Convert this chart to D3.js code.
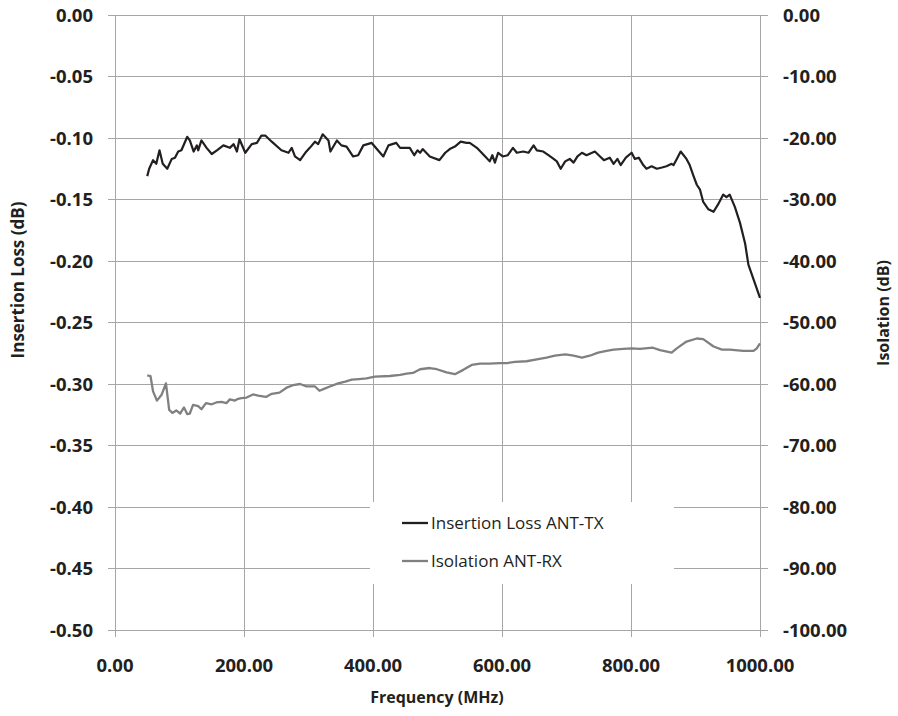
<!DOCTYPE html>
<html>
<head>
<meta charset="utf-8">
<script src="https://cdn.jsdelivr.net/npm/d3@7"></script>
<style>
  body { margin: 0; background: #fff; }
  svg { font-family: "Open Sans", sans-serif; }
</style>
</head>
<body>
<script>
// Insertion Loss ANT-TX (left axis, dB)
var ilFreq = [50,53,59,64,69,74,81,88,93,98,103,112,116,122,127,129,134,142,150,158,168,178,184,189,193,202,212,220,227,233,243,258,269,274,279,287,295,302,310,315,322,331,334,344,351,359,369,377,385,398,406,416,424,436,442,457,464,469,473,477,488,503,512,519,527,536,545,550,561,574,581,585,589,594,601,609,617,623,633,641,649,654,664,672,680,685,691,698,705,711,717,724,731,744,752,758,767,773,779,784,792,801,806,812,819,824,832,840,848,855,863,866,871,877,886,891,897,902,907,912,920,928,935,943,948,953,961,969,977,982,990,1000];
var ilLoss = [-0.131,-0.125,-0.118,-0.121,-0.110,-0.121,-0.125,-0.117,-0.116,-0.111,-0.110,-0.099,-0.102,-0.111,-0.106,-0.110,-0.102,-0.108,-0.113,-0.110,-0.106,-0.108,-0.105,-0.111,-0.101,-0.112,-0.105,-0.104,-0.098,-0.098,-0.103,-0.110,-0.112,-0.108,-0.115,-0.118,-0.112,-0.108,-0.103,-0.105,-0.097,-0.102,-0.111,-0.102,-0.106,-0.107,-0.115,-0.114,-0.106,-0.104,-0.109,-0.115,-0.106,-0.104,-0.108,-0.108,-0.114,-0.110,-0.112,-0.109,-0.115,-0.118,-0.112,-0.109,-0.107,-0.103,-0.104,-0.104,-0.108,-0.115,-0.119,-0.114,-0.120,-0.112,-0.115,-0.114,-0.108,-0.112,-0.111,-0.112,-0.106,-0.110,-0.111,-0.114,-0.117,-0.119,-0.125,-0.119,-0.117,-0.120,-0.115,-0.112,-0.114,-0.111,-0.115,-0.118,-0.116,-0.121,-0.117,-0.122,-0.116,-0.112,-0.117,-0.116,-0.122,-0.125,-0.123,-0.125,-0.124,-0.123,-0.121,-0.122,-0.117,-0.111,-0.117,-0.122,-0.131,-0.138,-0.142,-0.152,-0.158,-0.160,-0.154,-0.146,-0.148,-0.146,-0.156,-0.169,-0.186,-0.203,-0.215,-0.230];

// Isolation ANT-RX (right axis, dB)
var isoFreq = [50,55,59,65,72,79,84,89,95,101,107,112,116,121,129,134,141,150,157,165,173,178,186,191,196,204,214,222,234,243,255,266,276,287,297,310,317,324,333,346,357,367,378,390,403,426,442,452,462,473,488,499,514,527,540,553,566,580,597,608,620,638,654,669,682,698,711,724,736,749,762,773,788,801,814,834,845,863,871,886,902,912,928,941,953,974,990,995,1000];
var isoValues = [-58.6,-58.7,-61.2,-62.7,-61.8,-59.9,-64.2,-64.7,-64.3,-64.8,-63.8,-64.9,-64.8,-63.4,-63.6,-64.1,-63.1,-63.3,-63.0,-62.9,-63.1,-62.5,-62.7,-62.4,-62.3,-62.2,-61.7,-61.9,-62.1,-61.6,-61.4,-60.6,-60.2,-60.0,-60.4,-60.4,-61.1,-60.8,-60.4,-59.9,-59.6,-59.3,-59.2,-59.1,-58.8,-58.7,-58.5,-58.3,-58.2,-57.6,-57.4,-57.6,-58.1,-58.4,-57.7,-56.9,-56.7,-56.7,-56.6,-56.6,-56.4,-56.3,-56.0,-55.7,-55.4,-55.2,-55.4,-55.7,-55.4,-54.9,-54.6,-54.4,-54.3,-54.2,-54.3,-54.1,-54.5,-54.9,-54.2,-53.1,-52.6,-52.7,-53.9,-54.4,-54.4,-54.6,-54.6,-54.2,-53.4];

var xTicks = [0, 200, 400, 600, 800, 1000];
var leftTicks = [0, -0.05, -0.10, -0.15, -0.20, -0.25, -0.30, -0.35, -0.40, -0.45, -0.50];
var rightTicks = [0, -10, -20, -30, -40, -50, -60, -70, -80, -90, -100];

var margin = {top: 15, right: 138, bottom: 86, left: 115};
var width = 898 - margin.left - margin.right;
var height = 716 - margin.top - margin.bottom;

var svg = d3.select("body")
  .append("svg")
    .attr("width", 898)
    .attr("height", 716);

var g = svg.append("g")
    .attr("transform", "translate(" + margin.left + "," + margin.top + ")");

var x = d3.scaleLinear().domain([0, 1000]).range([0, width]);
var yL = d3.scaleLinear().domain([-0.5, 0]).range([height, 0]);
var yR = d3.scaleLinear().domain([-100, 0]).range([height, 0]);

var gridColor = "#a6a6a6";

// horizontal gridlines with outside ticks on both sides
g.selectAll(".hgrid")
  .data(leftTicks)
  .enter().append("line")
    .attr("x1", -7)
    .attr("x2", width + 8)
    .attr("y1", d => yL(d))
    .attr("y2", d => yL(d))
    .attr("stroke", gridColor)
    .attr("stroke-width", 1)
    .attr("shape-rendering", "crispEdges");

// vertical gridlines with ticks below
g.selectAll(".vgrid")
  .data(xTicks)
  .enter().append("line")
    .attr("x1", d => x(d))
    .attr("x2", d => x(d))
    .attr("y1", 0)
    .attr("y2", height + 7)
    .attr("stroke", gridColor)
    .attr("stroke-width", 1)
    .attr("shape-rendering", "crispEdges");

// tick labels (plain hyphen as minus, like the original)
var fmt = d => d3.format(".2f")(d).replace("\u2212", "-");
g.selectAll(".ltick")
  .data(leftTicks)
  .enter().append("text")
    .attr("x", -22)
    .attr("y", d => yL(d))
    .attr("dy", "0.36em")
    .attr("text-anchor", "end")
    .attr("font-size", "18.5px")
    .attr("font-weight", "bold")
    .attr("fill", "#231f20")
    .text(d => fmt(d));

g.selectAll(".rtick")
  .data(rightTicks)
  .enter().append("text")
    .attr("x", width + 23)
    .attr("y", d => yR(d))
    .attr("dy", "0.36em")
    .attr("text-anchor", "start")
    .attr("font-size", "18.5px")
    .attr("font-weight", "bold")
    .attr("fill", "#231f20")
    .text(d => fmt(d));

g.selectAll(".xtick")
  .data(xTicks)
  .enter().append("text")
    .attr("x", d => x(d))
    .attr("y", height + 35)
    .attr("dy", "0.36em")
    .attr("text-anchor", "middle")
    .attr("font-size", "18.5px")
    .attr("font-weight", "bold")
    .attr("fill", "#231f20")
    .text(d => fmt(d));

// axis titles
svg.append("text")
    .attr("x", 437)
    .attr("y", 697)
    .attr("dy", "0.36em")
    .attr("text-anchor", "middle")
    .attr("font-size", "16px")
    .attr("font-weight", "bold")
    .attr("fill", "#231f20")
    .text("Frequency (MHz)");

svg.append("text")
    .attr("transform", "translate(18,280) rotate(-90)")
    .attr("dy", "0.36em")
    .attr("text-anchor", "middle")
    .attr("font-size", "17px")
    .attr("font-weight", "bold")
    .attr("fill", "#231f20")
    .text("Insertion Loss (dB)");

svg.append("text")
    .attr("transform", "translate(883,313) rotate(-90)")
    .attr("dy", "0.36em")
    .attr("text-anchor", "middle")
    .attr("font-size", "16px")
    .attr("font-weight", "bold")
    .attr("fill", "#231f20")
    .text("Isolation (dB)");

// lines
var ilLine = d3.line()
    .x((d, i) => x(ilFreq[i]))
    .y(d => yL(d));
var isoLine = d3.line()
    .x((d, i) => x(isoFreq[i]))
    .y(d => yR(d));

g.append("path")
    .datum(isoValues)
    .attr("d", isoLine)
    .attr("fill", "none")
    .attr("stroke", "#808080")
    .attr("stroke-width", 2.3)
    .attr("stroke-linejoin", "round");

g.append("path")
    .datum(ilLoss)
    .attr("d", ilLine)
    .attr("fill", "none")
    .attr("stroke", "#231f20")
    .attr("stroke-width", 2.2)
    .attr("stroke-linejoin", "round");

// legend
var legend = svg.append("g").attr("transform", "translate(370,502)");
legend.append("rect")
    .attr("width", 304)
    .attr("height", 82)
    .attr("fill", "#fff");

var legendItems = [
  {name: "Insertion Loss ANT-TX", color: "#231f20"},
  {name: "Isolation ANT-RX", color: "#808080"}
];
var li = legend.selectAll(".item")
  .data(legendItems)
  .enter().append("g")
    .attr("transform", (d, i) => "translate(0," + (21 + i * 38) + ")");
li.append("line")
    .attr("x1", 32).attr("x2", 58)
    .attr("stroke", d => d.color)
    .attr("stroke-width", 2.3);
li.append("text")
    .attr("x", 61)
    .attr("dy", "0.36em")
    .attr("font-size", "17px")
    .attr("fill", "#231f20")
    .text(d => d.name);
</script>
</body>
</html>
